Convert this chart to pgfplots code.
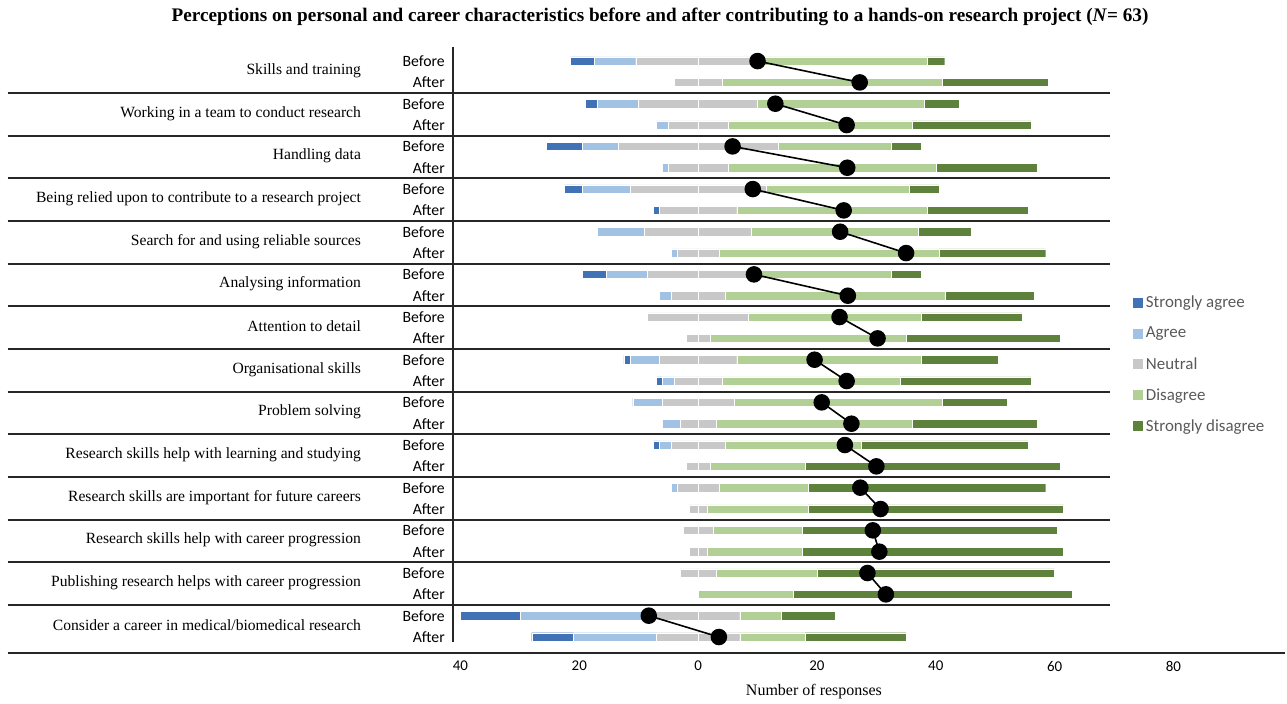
\documentclass[border=0pt]{standalone}
\usepackage{pgfplots}
\pgfplotsset{compat=1.18}
\usepackage{pgfplotstable}
\usepackage{fontspec}
\setmainfont{Liberation Serif}
\newfontfamily\calibri{Carlito}

\definecolor{csa}{RGB}{65,114,181}
\definecolor{ca}{RGB}{162,194,228}
\definecolor{cn}{RGB}{200,200,200}
\definecolor{cd}{RGB}{178,208,150}
\definecolor{csd}{RGB}{94,129,60}
\definecolor{legtext}{RGB}{89,89,89}

\tikzset{catlab/.style={anchor=east, inner sep=0pt, font=\fontsize{11.7}{14}\selectfont},
  sep/.style={line width=1.5pt, black!85}}

% k: bar index (Before = even, After = odd)
\pgfplotstableread{
k SA A N D SD
0 4 7 21 28 3
1 0 0 8 37 18
2 2 7 20 28 6
3 0 2 10 31 20
4 6 6 27 19 5
5 0 1 10 35 17
6 3 8 23 24 5
7 1 0 13 32 17
8 0 8 18 28 9
9 0 1 7 37 18
10 4 7 17 24 5
11 0 2 9 37 15
12 0 0 17 29 17
13 0 0 4 33 26
14 1 5 13 31 13
15 1 2 8 30 22
16 0 5 12 35 11
17 0 3 6 33 21
18 1 2 9 23 28
19 0 0 4 16 43
20 0 1 7 15 40
21 0 0 3 17 43
22 0 0 5 15 43
23 0 0 3 16 44
24 0 0 6 17 40
25 0 0 0 16 47
26 10 23 14 7 9
27 7 14 14 11 17
}\resp

\pgfplotsset{
  common/.style={
    scale only axis, width=624pt, height=454.5pt,
    xmin=-41.25, xmax=98.77, ymin=-0.66, ymax=27.75,
    y dir=reverse, clip=false,
  },
  dotline/.style={black, line width=1.2pt, mark=*, mark size=5.6pt, mark options={fill=black}},
}

\begin{document}
\begin{tikzpicture}
\begin{axis}[
  common,
  name=ax,
  xbar stacked, stack negative=on previous, bar width=0.4,
  axis line style={draw=none},
  xtick={-40,-20,0,20,40,60,80},
  xticklabels={40,20,0,20,40,60,80},
  ytick={0,...,27},
  yticklabels={Before,After,Before,After,Before,After,Before,After,Before,After,Before,After,Before,After,Before,After,Before,After,Before,After,Before,After,Before,After,Before,After,Before,After},
  major tick length=0pt,
  tick label style={font=\calibri\fontsize{11.2}{13}\selectfont},
  xticklabel style={inner sep=0pt, yshift=-6pt},
  yticklabel style={inner sep=0pt, xshift=-6pt, font=\calibri\fontsize{11.8}{13}\selectfont},
  legend image code/.code={\draw[#1,draw=none] (0pt,-3.75pt) rectangle (7.5pt,3.75pt);},
  legend style={at={(0.8173,0.594)}, anchor=north west, draw=none, fill=none,
    inner sep=0pt, row sep=9pt, font=\calibri\fontsize{12.7}{15}\selectfont,
    text=legtext},
  legend cell align=left,
]
\addplot[draw=none, fill=none, forget plot] table[x expr={-(\thisrow{SA}+\thisrow{A}+\thisrow{N}/2)}, y=k] {\resp};
\addplot[fill=csa, draw=white, line width=0.3pt] table[x=SA, y=k] {\resp};
\addlegendentry{Strongly agree}
\addplot[fill=ca, draw=white, line width=0.3pt] table[x=A, y=k] {\resp};
\addlegendentry{Agree}
\addplot[fill=cn, draw=white, line width=0.3pt] table[x expr={\thisrow{N}/2}, y=k] {\resp};
\addlegendentry{Neutral}
\addplot[fill=cn, draw=white, line width=0.3pt, forget plot] table[x expr={\thisrow{N}/2}, y=k] {\resp};
\addplot[fill=cd, draw=white, line width=0.3pt] table[x=D, y=k] {\resp};
\addlegendentry{Disagree}
\addplot[fill=csd, draw=white, line width=0.3pt] table[x=SD, y=k] {\resp};
\addlegendentry{Strongly disagree}

\draw[sep] (axis cs:-41.25,-0.66) -- (axis cs:-41.25,27.22);
\draw[sep] (axis cs:-116.2,27.75) -- (axis cs:98.77,27.75);
\draw[sep] (axis cs:-116.2,1.5) -- (axis cs:69.4,1.5);
\draw[sep] (axis cs:-116.2,3.5) -- (axis cs:69.4,3.5);
\draw[sep] (axis cs:-116.2,5.5) -- (axis cs:69.4,5.5);
\draw[sep] (axis cs:-116.2,7.5) -- (axis cs:69.4,7.5);
\draw[sep] (axis cs:-116.2,9.5) -- (axis cs:69.4,9.5);
\draw[sep] (axis cs:-116.2,11.5) -- (axis cs:69.4,11.5);
\draw[sep] (axis cs:-116.2,13.5) -- (axis cs:69.4,13.5);
\draw[sep] (axis cs:-116.2,15.5) -- (axis cs:69.4,15.5);
\draw[sep] (axis cs:-116.2,17.5) -- (axis cs:69.4,17.5);
\draw[sep] (axis cs:-116.2,19.5) -- (axis cs:69.4,19.5);
\draw[sep] (axis cs:-116.2,21.5) -- (axis cs:69.4,21.5);
\draw[sep] (axis cs:-116.2,23.5) -- (axis cs:69.4,23.5);
\draw[sep] (axis cs:-116.2,25.5) -- (axis cs:69.4,25.5);

\node[catlab] at (axis cs:-56.7,0.45) {Skills and training};
\node[catlab] at (axis cs:-56.7,2.45) {Working in a team to conduct research};
\node[catlab] at (axis cs:-56.7,4.45) {Handling data};
\node[catlab] at (axis cs:-56.7,6.45) {Being relied upon to contribute to a research project};
\node[catlab] at (axis cs:-56.7,8.45) {Search for and using reliable sources};
\node[catlab] at (axis cs:-56.7,10.45) {Analysing information};
\node[catlab] at (axis cs:-56.7,12.45) {Attention to detail};
\node[catlab] at (axis cs:-56.7,14.45) {Organisational skills};
\node[catlab] at (axis cs:-56.7,16.45) {Problem solving};
\node[catlab] at (axis cs:-56.7,18.45) {Research skills help with learning and studying};
\node[catlab] at (axis cs:-56.7,20.45) {Research skills are important for future careers};
\node[catlab] at (axis cs:-56.7,22.45) {Research skills help with career progression};
\node[catlab] at (axis cs:-56.7,24.45) {Publishing research helps with career progression};
\node[catlab] at (axis cs:-56.7,26.45) {Consider a career in medical/biomedical research};

\node[font=\bfseries\fontsize{14.4}{17}\selectfont] at (axis cs:-6.4,-2.06)
  {Perceptions on personal and career characteristics before and after contributing to a hands-on research project (\textit{N}= 63)};
\node[font=\fontsize{12}{14}\selectfont] at (axis cs:19.5,29.58) {Number of responses};
\end{axis}

\begin{axis}[common, at={(ax.south west)}, anchor=south west, hide axis]
\addplot[dotline] coordinates {(10.0,0) (27.2,1)};
\addplot[dotline] coordinates {(13.0,2) (25.0,3)};
\addplot[dotline] coordinates {(5.8,4) (25.1,5)};
\addplot[dotline] coordinates {(9.2,6) (24.5,7)};
\addplot[dotline] coordinates {(23.9,8) (35.0,9)};
\addplot[dotline] coordinates {(9.4,10) (25.2,11)};
\addplot[dotline] coordinates {(23.8,12) (30.2,13)};
\addplot[dotline] coordinates {(19.6,14) (25.0,15)};
\addplot[dotline] coordinates {(20.8,16) (25.8,17)};
\addplot[dotline] coordinates {(24.7,18) (30.0,19)};
\addplot[dotline] coordinates {(27.3,20) (30.7,21)};
\addplot[dotline] coordinates {(29.4,22) (30.5,23)};
\addplot[dotline] coordinates {(28.5,24) (31.6,25)};
\addplot[dotline] coordinates {(-8.3,26) (3.5,27)};
\end{axis}

\pgfresetboundingbox
\path ([xshift=-339.75pt,yshift=-37.5pt]ax.south west) rectangle ([xshift=1.5pt,yshift=35.25pt]ax.north east);
\end{tikzpicture}
\end{document}
